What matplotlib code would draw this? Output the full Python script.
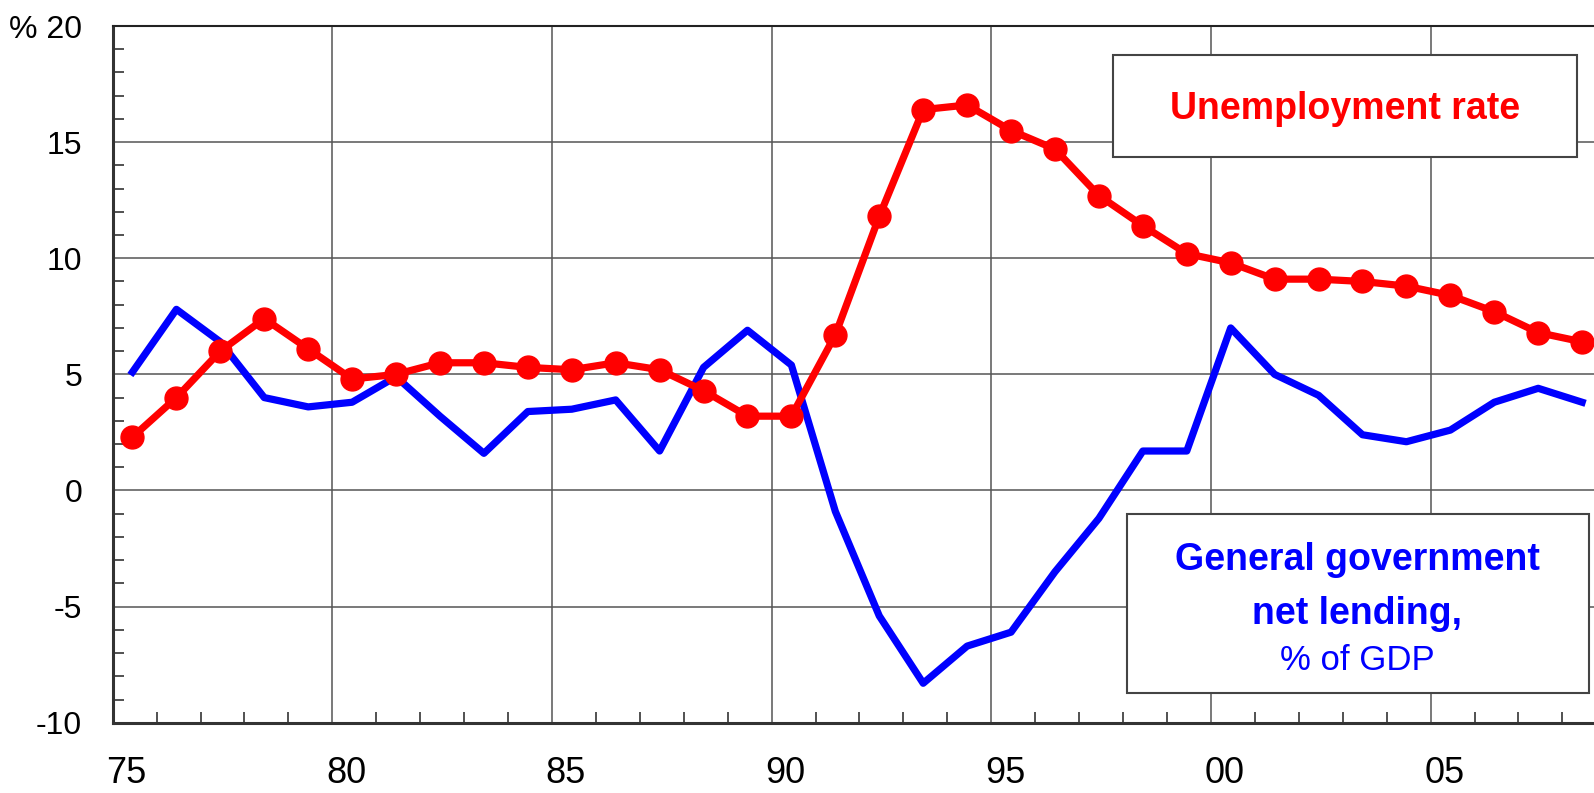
import matplotlib
matplotlib.use("Agg")
import matplotlib.pyplot as plt
from matplotlib.ticker import MultipleLocator, FixedLocator
from matplotlib.transforms import ScaledTranslation
import numpy as np

plt.rcParams['font.family'] = ['Liberation Sans', 'DejaVu Sans']

years = np.arange(1975, 2009)
unemployment = [2.3, 4.0, 6.0, 7.4, 6.1, 4.8, 5.0, 5.5, 5.5, 5.3,
                5.2, 5.5, 5.2, 4.3, 3.2, 3.2, 6.7, 11.8, 16.4, 16.6,
                15.5, 14.7, 12.7, 11.4, 10.2, 9.8, 9.1, 9.1, 9.0, 8.8,
                8.4, 7.7, 6.8, 6.4]
net_lending = [5.1, 7.8, 6.4, 4.0, 3.6, 3.8, 4.9, 3.2, 1.6, 3.4,
               3.5, 3.9, 1.7, 5.3, 6.9, 5.4, -0.9, -5.4, -8.3, -6.7,
               -6.1, -3.5, -1.2, 1.7, 1.7, 7.0, 5.0, 4.1, 2.4, 2.1,
               2.6, 3.8, 4.4, 3.8]
x_labels = ["75", "80", "85", "90", "95", "00", "05"]
y_labels = ["-10", "-5", "0", "5", "10", "15", "% 20"]

# annual points sit a bit right of the year tick
x = (years - 1975) + 0.45

fig = plt.figure(figsize=(15.94, 7.93), dpi=100)
ax = fig.add_axes([0.0707, 0.0886, 0.9293, 0.8786])

ax.plot(x, net_lending, color="#0000ff", lw=5.2, zorder=3)
ax.plot(x, unemployment, color="#ff0000", lw=5.2, marker="o", markersize=16.5,
        zorder=4)

ax.set_xlim(0, 33.72)
ax.set_ylim(-10, 20)

ax.xaxis.set_major_locator(FixedLocator(np.arange(0, 31, 5)))
ax.xaxis.set_minor_locator(MultipleLocator(1))
ax.set_xticklabels(x_labels)
ax.set_yticks(np.arange(-10, 21, 5))
ax.yaxis.set_minor_locator(MultipleLocator(1))
ax.set_yticklabels(y_labels)

ax.grid(True, which="major", color="#555555", lw=1.1)
ax.tick_params(axis="x", which="major", length=0, pad=24, labelsize=26)
ax.tick_params(axis="y", which="major", length=0, pad=22, labelsize=23)
ax.tick_params(which="minor", direction="in", length=8, width=1.2, color="#333333")
for lab in ax.get_xticklabels():
    lab.set_transform(lab.get_transform() + ScaledTranslation(0.14, 0, fig.dpi_scale_trans))

for side in ["left", "bottom"]:
    ax.spines[side].set_color("#333333")
    ax.spines[side].set_linewidth(2.2)
ax.spines["top"].set_color("#222222")
ax.spines["top"].set_linewidth(1.5)
ax.spines["right"].set_visible(False)

# label boxes
box1 = plt.Rectangle((1113 / 1594, 1 - 157 / 793), 464 / 1594, 102 / 793,
                     transform=fig.transFigure, facecolor="white",
                     edgecolor="#444444", lw=1.5, zorder=5)
fig.patches.append(box1)
fig.text(1345 / 1594, 1 - 109 / 793, "Unemployment rate", color="#ff0000",
         fontsize=27, fontweight="bold", ha="center", va="center", zorder=6)

box2 = plt.Rectangle((1127 / 1594, 1 - 693 / 793), 462 / 1594, 179 / 793,
                     transform=fig.transFigure, facecolor="white",
                     edgecolor="#444444", lw=1.5, zorder=5)
fig.patches.append(box2)
fig.text(1357 / 1594, 1 - 560 / 793, "General government", color="#0000ff",
         fontsize=27, fontweight="bold", ha="center", va="center", zorder=6)
fig.text(1357 / 1594, 1 - 614 / 793, "net lending,", color="#0000ff",
         fontsize=27, fontweight="bold", ha="center", va="center", zorder=6)
fig.text(1357 / 1594, 1 - 660 / 793, "% of GDP", color="#0000ff",
         fontsize=25, ha="center", va="center", zorder=6)

fig.savefig("out.png", dpi=100)
